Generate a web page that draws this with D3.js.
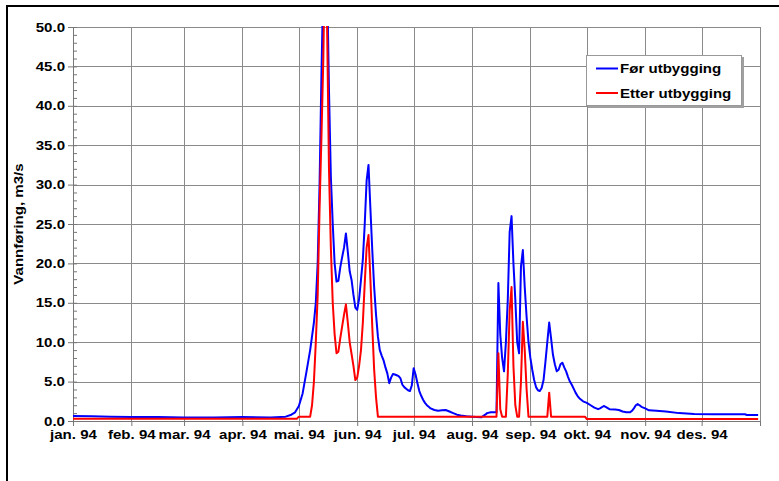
<!DOCTYPE html>
<html><head><meta charset="utf-8">
<script src="https://cdn.jsdelivr.net/npm/d3@7/dist/d3.min.js"></script>
<style>body{margin:0;background:#fff}svg{display:block}text{font-family:"Liberation Sans",Arial,sans-serif;font-weight:bold;fill:#000}</style>
</head><body><svg id="c" width="779" height="481"></svg>
<script>
const monthLabels = ["jan. 94","feb. 94","mar. 94","apr. 94","mai. 94","jun. 94","jul. 94","aug. 94","sep. 94","okt. 94","nov. 94","des. 94",""];
const yTickValues = [0,5,10,15,20,25,30,35,40,45,50];
const yTitle = "Vannføring, m3/s";
const seriesNames = ["Før utbygging","Etter utbygging"];

const forDays = [0,10,20,31,45,59,75,90,105,113,116,118,120,122,124,126,128,129,130,131,132,133,134,135,136,137,138,139,140,141,142,143,144,145,146,147,148,149,150,151,152,153,154,155,156,157,158,159,160,161,162,163,164,165,166,167,168,169,170,171,172,173,174,175,176,177,178,179,180,181,182,183,184,185,186,187,188,189,190,192,194,196,198,200,202,204,206,209,212,217,219,220,222,225,226,227,228,229,230,231,232,233,234,235,236,237,238,239,240,241,242,243,244,245,246,247,248,249,250,251,252,253,254,255,256,257,258,259,260,261,262,263,264,265,266,267,268,269,270,271,273,275,277,279,280,282,283,285,288,290,292,294,296,297,298,299,300,301,302,304,306,310,315,322,330,340,350,357,358,364];
const forValues = [0.62,0.6,0.55,0.5,0.5,0.45,0.45,0.5,0.45,0.55,0.8,1.1,1.9,3.5,6.2,9.0,12.5,15,20,30,44,56,64,56,42,31,25,20,17.7,17.8,19.5,20.8,22,23.8,21.5,19,17.9,16,14.4,14.1,15.5,17.9,20.5,25,30.5,32.5,27,21.7,17,13.5,10.7,9,8.3,7.7,6.8,6.05,4.8,5.5,5.96,5.9,5.8,5.7,5.4,4.6,4.3,4.1,3.9,3.8,4.5,6.7,5.9,4.8,3.8,3.2,2.7,2.3,2.0,1.8,1.6,1.4,1.3,1.35,1.4,1.2,1.0,0.8,0.7,0.6,0.55,0.47,0.8,1.0,1.1,1.1,17.5,11,8,6.3,10,15.4,24,26,20,15.4,10,8.6,19.6,21.7,17,13.2,10,8,6.5,5.2,4.3,3.9,3.8,4.2,5.2,7.5,10,12.5,10.5,8.4,7.2,6.3,6.5,7.2,7.4,6.8,6.3,5.6,5.0,4.6,4.1,3.6,3.2,2.9,2.7,2.5,2.3,2.0,1.7,1.5,1.6,1.9,1.8,1.5,1.45,1.4,1.2,1.1,1.1,1.3,1.6,2.0,2.15,2.0,1.8,1.6,1.35,1.3,1.2,1.0,0.9,0.85,0.85,0.85,0.76,0.76];

const etterDays = [0,119,120,126,127,128,129,130,131,132,133,134,135,136,137,138,139,140,141,142,143,144,145,146,147,148,149,150,151,152,153,154,155,156,157,158,159,160,161,162,225,226,227,228,230,231,232,233,234,235,236,237,238,239,240,241,242,252,253,254,272,273,364];
const etterValues = [0.3,0.3,0.55,0.55,2.0,5.0,10,16,27,36,46,62,50,32,22,15,11,8.6,8.8,10.5,12,13.5,14.8,12.5,10,8.5,7,5.2,5.5,7,9,12.5,17.5,22,23.6,18,12,6.5,3,0.55,0.55,8.6,1.5,0.55,0.55,6,14,17,7,2,0.55,0.55,5,12.6,9,4,0.55,0.55,3.6,0.55,0.55,0.25,0.25];

const svg = d3.select("#c");
const L = 73, R = 760, T = 27, B = 421;
const start = new Date(1994,0,1);
const dayDate = d => d3.timeDay.offset(start, d);
const x = d3.scaleTime().domain([start, new Date(1995,0,1)]).range([L, R]);
const y = d3.scaleLinear().domain([0,50]).range([B, T]);
const monthDates = d3.timeMonth.range(start, new Date(1995,0,2));
const SX = 1.16;

// outer frame
svg.append("rect").attr("x",7).attr("y",6).attr("width",820).attr("height",520)
  .attr("fill","none").attr("stroke","#000").attr("stroke-width",2);

// gridlines
const grid = svg.append("g").attr("stroke","#8a8a8a").attr("stroke-width",1).attr("shape-rendering","crispEdges");
grid.selectAll("line.h").data(yTickValues.slice(1)).join("line")
  .attr("x1",L).attr("x2",R).attr("y1",d=>Math.round(y(d))+0.5).attr("y2",d=>Math.round(y(d))+0.5);
grid.selectAll("line.v").data(monthDates.slice(1)).join("line")
  .attr("y1",T).attr("y2",B).attr("x1",d=>Math.round(x(d))+0.5).attr("x2",d=>Math.round(x(d))+0.5);

// y axis
const yAxis = svg.append("g").attr("transform",`translate(${L},0)`)
  .call(d3.axisLeft(y).tickValues(yTickValues).tickSize(5).tickPadding(6).tickFormat(d3.format(".1f")));
const yMinor = svg.append("g").attr("transform",`translate(${L},0)`)
  .call(d3.axisRight(y).tickValues(d3.range(0,50,1)).tickSize(4).tickFormat(""));
// x axis
const xAxis = svg.append("g").attr("transform",`translate(0,${B})`)
  .call(d3.axisBottom(x).tickValues(monthDates).tickSize(5).tickPadding(4).tickFormat((d,i)=>monthLabels[i]));

[yAxis,yMinor,xAxis].forEach(g=>{
  g.select(".domain").attr("stroke","#777").attr("stroke-width",1);
  g.selectAll(".tick line").attr("stroke","#777");
  g.selectAll(".tick text").attr("font-size",13).attr("font-family","Liberation Sans, Arial, sans-serif")
    .attr("font-weight","bold").attr("fill","#000");
});
yAxis.selectAll(".tick text").attr("transform",`scale(${SX},1)`).attr("x",-8/SX);
xAxis.selectAll(".tick text").attr("transform",`scale(${SX},1)`);

// title
svg.append("text").attr("transform",`translate(23,${(T+B)/2}) rotate(-90) scale(${SX},1)`)
  .attr("text-anchor","middle").attr("font-size",13).text(yTitle);

// clip
svg.append("clipPath").attr("id","plot").append("rect").attr("x",L).attr("y",T-1).attr("width",R-L).attr("height",B-T+1);

const line = d3.line().x(d=>x(dayDate(d[0]))).y(d=>y(d[1]));
const forData = forDays.map((d,i)=>[d,forValues[i]]);
const etterData = etterDays.map((d,i)=>[d,etterValues[i]]);
const pl = svg.append("g").attr("clip-path","url(#plot)");
pl.append("path").datum(forData).attr("d",line).attr("fill","none").attr("stroke","#0000ff").attr("stroke-width",2).attr("stroke-linejoin","round");
pl.append("path").datum(etterData).attr("d",line).attr("fill","none").attr("stroke","#ff0000").attr("stroke-width",2).attr("stroke-linejoin","round");

// legend
const lg = svg.append("g");
lg.append("rect").attr("x",588).attr("y",57).attr("width",156).attr("height",51).attr("fill","#a0a0a0");
lg.append("rect").attr("x",586.5).attr("y",55.5).attr("width",155).attr("height",50).attr("fill","#fff").attr("stroke","#999");
const colors = ["#0000ff","#ff0000"];
seriesNames.forEach((n,i)=>{
  const ly = 68.5 + i*24.5;
  lg.append("line").attr("x1",596).attr("x2",618).attr("y1",ly).attr("y2",ly).attr("stroke",colors[i]).attr("stroke-width",2);
  lg.append("text").attr("transform",`translate(620,${ly+4.6}) scale(${SX},1)`).attr("font-size",13).text(n);
});
</script></body></html>
